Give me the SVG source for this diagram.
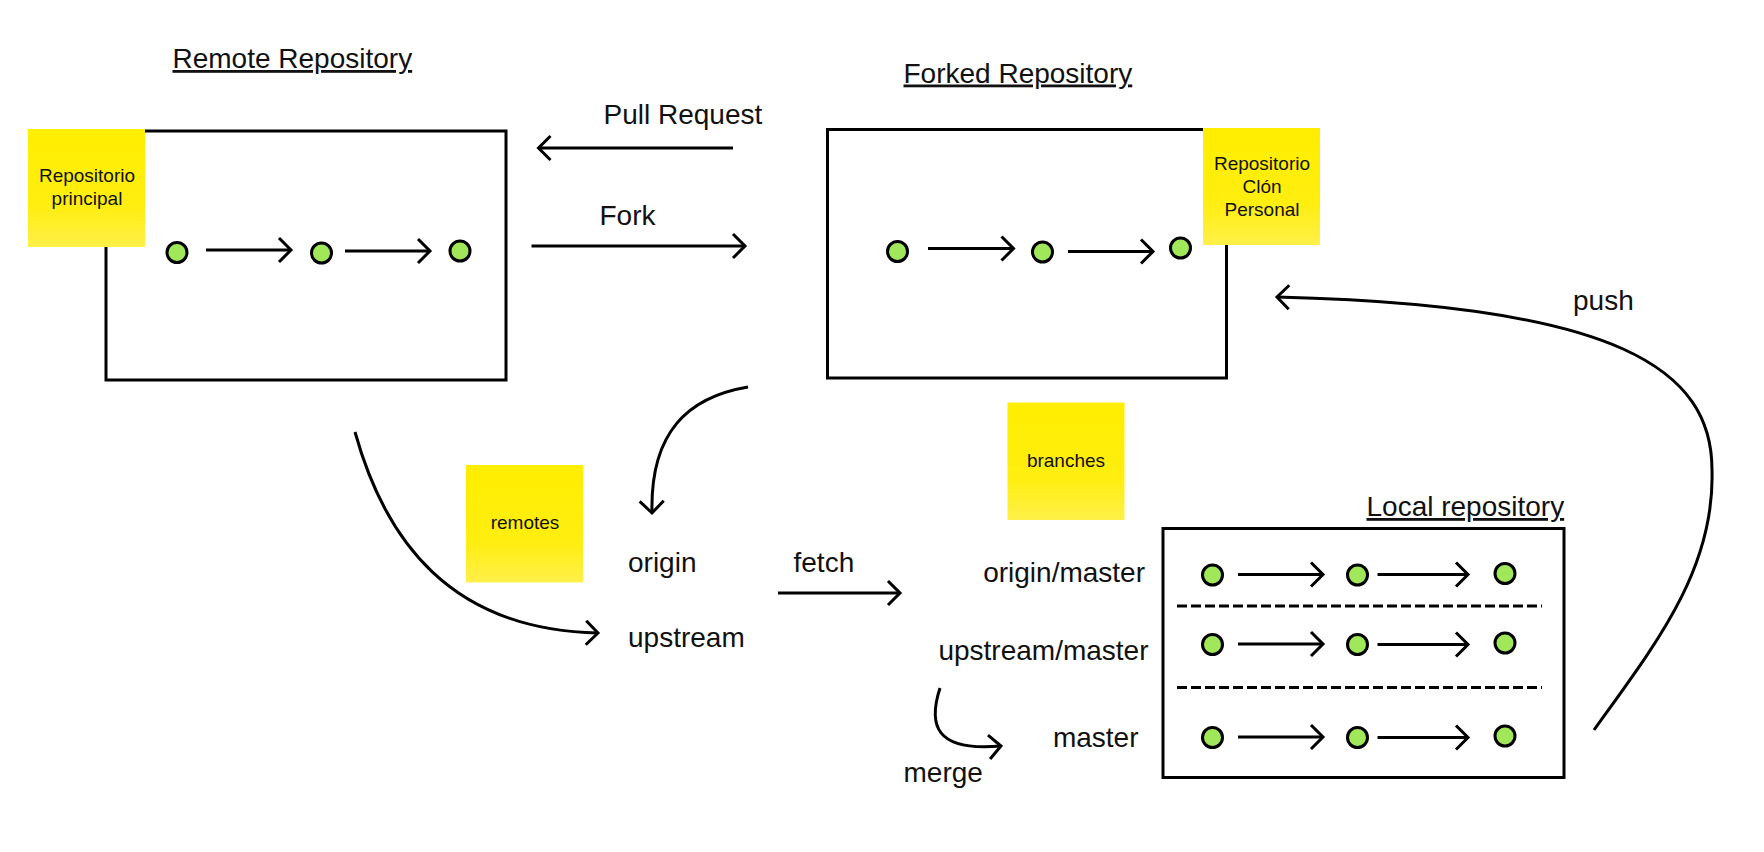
<svg xmlns="http://www.w3.org/2000/svg" width="1764" height="852" viewBox="0 0 1764 852">
<defs>
<linearGradient id="sticky" x1="0" y1="0" x2="0" y2="1">
<stop offset="0" stop-color="#FFEE00"/>
<stop offset="0.65" stop-color="#FFEE10"/>
<stop offset="1" stop-color="#FFF04A"/>
</linearGradient>
<marker id="ah" viewBox="-16 -16 32 32" markerWidth="32" markerHeight="32" refX="0" refY="0" markerUnits="userSpaceOnUse" orient="auto" overflow="visible">
<path d="M-12,-12 L0,0 L-12,12" fill="none" stroke="#000" stroke-width="3" stroke-linejoin="miter"/>
</marker>
</defs>
<style>
text{font-family:"Liberation Sans",Arial,sans-serif;fill:#111}
.lbl{font-size:28px}
.hd{font-size:28px;text-decoration:underline}
.st{font-size:19px;text-anchor:middle}
.box{fill:none;stroke:#000;stroke-width:3}
.note{fill:url(#sticky)}
.c{fill:#A0E85A;stroke:#000;stroke-width:3}
.a{fill:none;stroke:#000;stroke-width:3;marker-end:url(#ah)}
.dash{fill:none;stroke:#000;stroke-width:3;stroke-dasharray:10 4}
</style>
<rect width="1764" height="852" fill="#fff"/>

<g id="remote-repository">
<text class="hd" x="172.5" y="68">Remote Repository</text>
<rect class="box" x="106" y="131" width="400" height="249"/>
<rect class="note" x="28" y="129" width="117" height="118"/>
<text class="st" x="87" y="182">Repositorio</text>
<text class="st" x="87" y="205">principal</text>
<circle class="c" cx="177" cy="252.5" r="10"/>
<circle class="c" cx="321.5" cy="253" r="10"/>
<circle class="c" cx="460" cy="251" r="10"/>
<line class="a" x1="206" y1="250" x2="291" y2="250"/>
<line class="a" x1="345" y1="251" x2="430" y2="251"/>
</g>

<g id="forked-repository">
<text class="hd" x="903.5" y="82.5">Forked Repository</text>
<rect class="box" x="827.5" y="129.5" width="399" height="248.5"/>
<rect class="note" x="1203" y="128" width="117" height="117"/>
<text class="st" x="1262" y="170">Repositorio</text>
<text class="st" x="1262" y="193">Clón</text>
<text class="st" x="1262" y="216">Personal</text>
<circle class="c" cx="897.5" cy="251.5" r="10"/>
<circle class="c" cx="1042.5" cy="252" r="10"/>
<circle class="c" cx="1180.5" cy="248" r="10"/>
<line class="a" x1="928" y1="248.5" x2="1013.5" y2="248.5"/>
<line class="a" x1="1068" y1="251.5" x2="1153" y2="251.5"/>
</g>

<g id="remotes">
<rect class="note" x="466" y="465" width="117" height="117.5"/>
<text class="st" x="525" y="529">remotes</text>
<text class="lbl" x="628" y="571.5">origin</text>
<text class="lbl" x="628" y="646.5">upstream</text>
</g>

<g id="branches">
<rect class="note" x="1007.5" y="402.5" width="117" height="117.5"/>
<text class="st" x="1066" y="467">branches</text>
<text class="lbl" x="1145" y="581.5" text-anchor="end">origin/master</text>
<text class="lbl" x="1148.5" y="660" text-anchor="end">upstream/master</text>
<text class="lbl" x="1138.5" y="746.5" text-anchor="end">master</text>
</g>

<g id="local-repository">
<text class="hd" x="1366.5" y="516">Local repository</text>
<rect class="box" x="1163" y="528.5" width="401" height="249"/>
<line class="dash" x1="1177" y1="606" x2="1542" y2="606"/>
<line class="dash" x1="1177" y1="687.5" x2="1542" y2="687.5"/>
<circle class="c" cx="1212.5" cy="575" r="10"/>
<circle class="c" cx="1357.5" cy="575" r="10"/>
<circle class="c" cx="1505" cy="573.5" r="10"/>
<line class="a" x1="1238" y1="574.5" x2="1323" y2="574.5"/>
<line class="a" x1="1377.5" y1="574.5" x2="1468" y2="574.5"/>
<circle class="c" cx="1212.5" cy="644.5" r="10"/>
<circle class="c" cx="1357.5" cy="644.5" r="10"/>
<circle class="c" cx="1505" cy="643" r="10"/>
<line class="a" x1="1238" y1="644" x2="1323" y2="644"/>
<line class="a" x1="1377.5" y1="644.5" x2="1468" y2="644.5"/>
<circle class="c" cx="1212.5" cy="737.5" r="10"/>
<circle class="c" cx="1357.5" cy="737.5" r="10"/>
<circle class="c" cx="1505" cy="736" r="10"/>
<line class="a" x1="1238" y1="737" x2="1323" y2="737"/>
<line class="a" x1="1377.5" y1="737.5" x2="1468" y2="737.5"/>
</g>

<g id="connectors">
<line class="a" x1="733" y1="148" x2="538.5" y2="148"/>
<text class="lbl" x="603.5" y="124">Pull Request</text>
<line class="a" x1="531.5" y1="246" x2="745" y2="246"/>
<text class="lbl" x="599.5" y="225">Fork</text>
<path class="a" d="M748,387 C688,397 650,432 652,513"/>
<path class="a" d="M355,432 C385,540 450,630 598,633"/>
<line class="a" x1="778" y1="593" x2="900" y2="593"/>
<text class="lbl" x="793.5" y="571.5">fetch</text>
<path class="a" d="M940,688 C928,725 935,752 1001,746"/>
<text class="lbl" x="903.5" y="781.5">merge</text>
<path class="a" d="M1594,730 C1655,645 1715,570 1712,470 C1712,370 1620,305 1277,297"/>
<text class="lbl" x="1573" y="310">push</text>
</g>
</svg>
